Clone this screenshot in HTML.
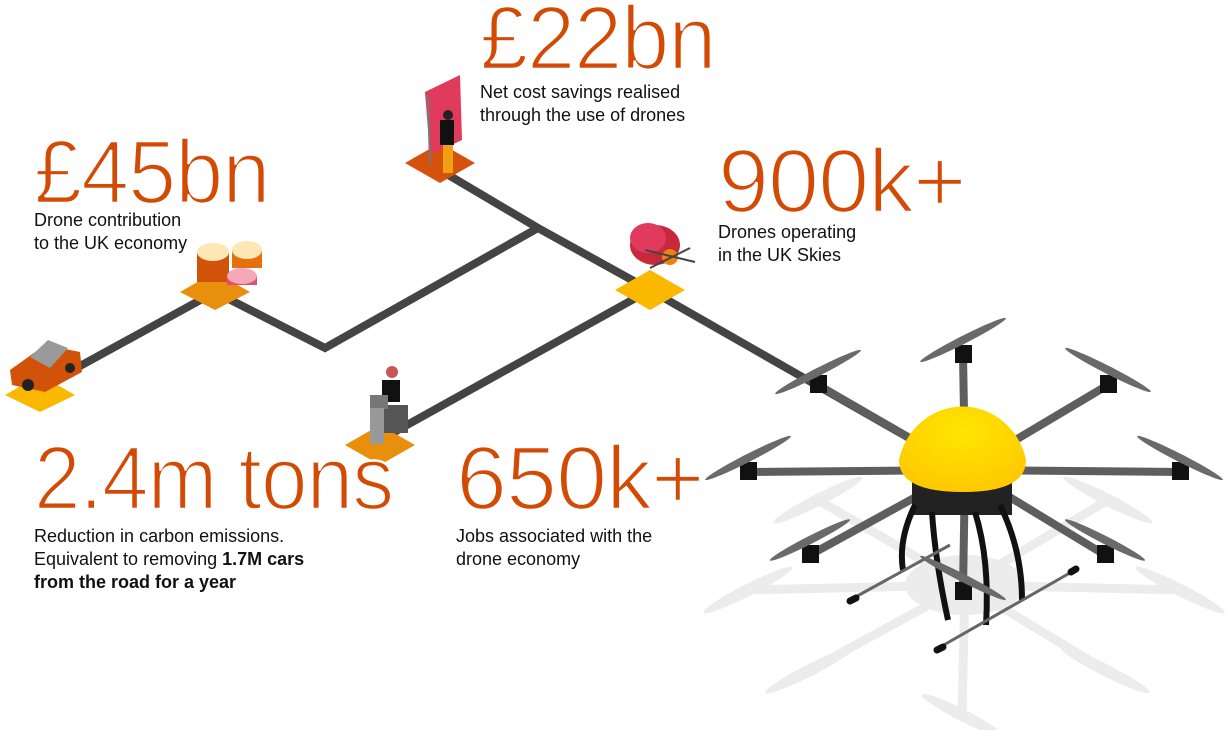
<!DOCTYPE html>
<html><head><meta charset="utf-8"><style>
html,body{margin:0;padding:0;background:#fff;}
body{width:1229px;height:730px;overflow:hidden;position:relative;font-family:"Liberation Sans",sans-serif;}
.big{position:absolute;color:#d24a04;font-size:90px;line-height:1;letter-spacing:-1px;transform-origin:0 0;white-space:nowrap;-webkit-text-stroke:2.5px #fff;}
.sm{position:absolute;color:#111;font-size:18px;line-height:23px;white-space:nowrap;}
svg{position:absolute;left:0;top:0;}
</style></head><body>
<svg width="1229" height="730" viewBox="0 0 1229 730">
<g stroke="#ececec" stroke-width="9" fill="none">
<line x1="965" y1="585" x2="818" y2="500"/><line x1="965" y1="585" x2="1108" y2="500"/>
<line x1="965" y1="585" x2="748" y2="590"/><line x1="965" y1="585" x2="1180" y2="590"/>
<line x1="965" y1="585" x2="810" y2="670"/><line x1="965" y1="585" x2="1105" y2="670"/>
<line x1="965" y1="585" x2="962" y2="715"/>
</g>
<g fill="#ececec">
<ellipse cx="965" cy="585" rx="60" ry="30"/>
<ellipse cx="818" cy="500" rx="50" ry="6" transform="rotate(-27 818 500)"/>
<ellipse cx="1108" cy="500" rx="50" ry="6" transform="rotate(27 1108 500)"/>
<ellipse cx="748" cy="590" rx="50" ry="6" transform="rotate(-27 748 590)"/>
<ellipse cx="1180" cy="590" rx="50" ry="6" transform="rotate(27 1180 590)"/>
<ellipse cx="810" cy="670" rx="50" ry="6" transform="rotate(-27 810 670)"/>
<ellipse cx="1105" cy="670" rx="50" ry="6" transform="rotate(27 1105 670)"/>
<ellipse cx="962" cy="715" rx="45" ry="6" transform="rotate(27 962 715)"/>
</g>
<g stroke="#444" stroke-width="8" fill="none" stroke-linejoin="miter">
<polyline points="40,388 215,292 325,348 538,228"/>
<polyline points="440,170 538,228 650,290 965,470"/>
<line x1="380" y1="440" x2="650" y2="290"/>
</g>
<polygon points="5,395 40,375 75,395 40,412" fill="#fbb800"/>
<polygon points="180,292 215,272 250,292 215,310" fill="#e8900c"/>
<polygon points="405,163 440,143 475,163 440,183" fill="#d4520c"/>
<polygon points="615,290 650,270 685,290 650,310" fill="#fbb800"/>
<polygon points="345,445 380,425 415,445 380,465" fill="#e8900c"/>
<polygon points="10,370 45,345 80,352 82,372 45,392 12,385" fill="#d2520a"/>
<polygon points="30,357 48,340 68,348 50,368" fill="#9a9a9a"/>
<circle cx="28" cy="385" r="6" fill="#222"/><circle cx="70" cy="368" r="5" fill="#222"/>
<rect x="197" y="252" width="32" height="30" fill="#d2520a"/><ellipse cx="213" cy="252" rx="16" ry="9" fill="#fde7b5"/>
<rect x="232" y="250" width="30" height="18" fill="#e8700c"/><ellipse cx="247" cy="250" rx="15" ry="9" fill="#fde7b5"/>
<rect x="227" y="275" width="30" height="10" fill="#e05070"/><ellipse cx="242" cy="276" rx="15" ry="8" fill="#f5a8b8"/>
<polygon points="425,92 460,75 462,140 430,155" fill="#e03a5c"/>
<line x1="428" y1="95" x2="430" y2="165" stroke="#777" stroke-width="2"/>
<rect x="440" y="120" width="14" height="25" fill="#111"/><circle cx="448" cy="115" r="5" fill="#222"/>
<rect x="443" y="145" width="10" height="28" fill="#f0a010"/>
<ellipse cx="655" cy="245" rx="25" ry="20" fill="#c8283c"/>
<ellipse cx="648" cy="238" rx="18" ry="15" fill="#e03a5c"/>
<circle cx="670" cy="257" r="8" fill="#f08010"/>
<g stroke="#444" stroke-width="2"><line x1="645" y1="250" x2="695" y2="262"/><line x1="650" y1="268" x2="690" y2="248"/></g>
<rect x="382" y="405" width="26" height="28" fill="#555"/>
<rect x="382" y="380" width="18" height="22" fill="#111"/><circle cx="392" cy="372" r="6" fill="#c55"/>
<rect x="370" y="395" width="18" height="14" fill="#777"/>
<rect x="370" y="408" width="14" height="36" fill="#999"/>
<g stroke="#5e5e5e" stroke-width="8">
<line x1="965" y1="470" x2="818" y2="385"/><line x1="965" y1="470" x2="1108" y2="385"/>
<line x1="965" y1="470" x2="748" y2="472"/><line x1="965" y1="470" x2="1180" y2="472"/>
<line x1="965" y1="470" x2="810" y2="555"/><line x1="965" y1="470" x2="1105" y2="555"/>
<line x1="965" y1="470" x2="963" y2="355"/><line x1="965" y1="470" x2="963" y2="590"/>
</g>
<rect x="912" y="470" width="100" height="45" fill="#222"/>
<g stroke="#111" stroke-width="6" fill="none">
<path d="M915 505 Q898 540 903 570"/><path d="M932 512 Q935 560 948 620"/>
<path d="M1000 505 Q1022 550 1022 600"/><path d="M975 512 Q990 560 986 625"/>
</g>
<g stroke="#666" stroke-width="3"><line x1="850" y1="600" x2="950" y2="545"/><line x1="935" y1="650" x2="1075" y2="570"/></g>
<g stroke="#111" stroke-width="7" stroke-linecap="round"><line x1="850" y1="601" x2="856" y2="598"/><line x1="937" y1="650" x2="943" y2="647"/><line x1="1071" y1="572" x2="1076" y2="569"/></g>
<g fill="#111">
<rect x="810" y="375" width="17" height="18"/><rect x="955" y="345" width="17" height="18"/><rect x="1100" y="375" width="17" height="18"/>
<rect x="740" y="462" width="17" height="18"/><rect x="1172" y="462" width="17" height="18"/>
<rect x="802" y="545" width="17" height="18"/><rect x="1097" y="545" width="17" height="18"/><rect x="955" y="582" width="17" height="18"/>
</g>
<g fill="#6a6a6a">
<ellipse cx="818" cy="372" rx="48" ry="4" transform="rotate(-27 818 372)"/>
<ellipse cx="963" cy="340" rx="48" ry="4" transform="rotate(-27 963 340)"/>
<ellipse cx="1108" cy="370" rx="48" ry="4" transform="rotate(27 1108 370)"/>
<ellipse cx="748" cy="458" rx="48" ry="4" transform="rotate(-27 748 458)"/>
<ellipse cx="1180" cy="458" rx="48" ry="4" transform="rotate(27 1180 458)"/>
<ellipse cx="810" cy="540" rx="45" ry="4" transform="rotate(-27 810 540)"/>
<ellipse cx="1105" cy="540" rx="45" ry="4" transform="rotate(27 1105 540)"/>
<ellipse cx="963" cy="578" rx="48" ry="4" transform="rotate(27 963 578)"/>
</g>
<defs><radialGradient id="g" cx="0.5" cy="0.3" r="0.7"><stop offset="0" stop-color="#ffe600"/><stop offset="1" stop-color="#ffc800"/></radialGradient></defs>
<path d="M899 460 A65 68 0 0 1 1026 460 Q1026 492 963 492 Q899 492 899 460Z" fill="url(#g)"/>
</svg>
<div class="big" style="left:480px;top:-6px;transform:scaleX(0.96)">£22bn</div>
<div class="sm" style="left:480px;top:81px">Net cost savings realised<br>through the use of drones</div>
<div class="big" style="left:34px;top:128px;transform:scaleX(0.96)">£45bn</div>
<div class="sm" style="left:34px;top:209px">Drone contribution<br>to the UK economy</div>
<div class="big" style="left:718px;top:137px;transform:scaleX(1.02)">900k+</div>
<div class="sm" style="left:718px;top:221px">Drones operating<br>in the UK Skies</div>
<div class="big" style="left:34px;top:434px;transform:scaleX(0.93)">2.4m tons</div>
<div class="sm" style="left:34px;top:525px">Reduction in carbon emissions.<br>Equivalent to removing <b>1.7M cars<br>from the road for a year</b></div>
<div class="big" style="left:456px;top:434px;transform:scaleX(1.02)">650k+</div>
<div class="sm" style="left:456px;top:525px">Jobs associated with the<br>drone economy</div>
</body></html>
